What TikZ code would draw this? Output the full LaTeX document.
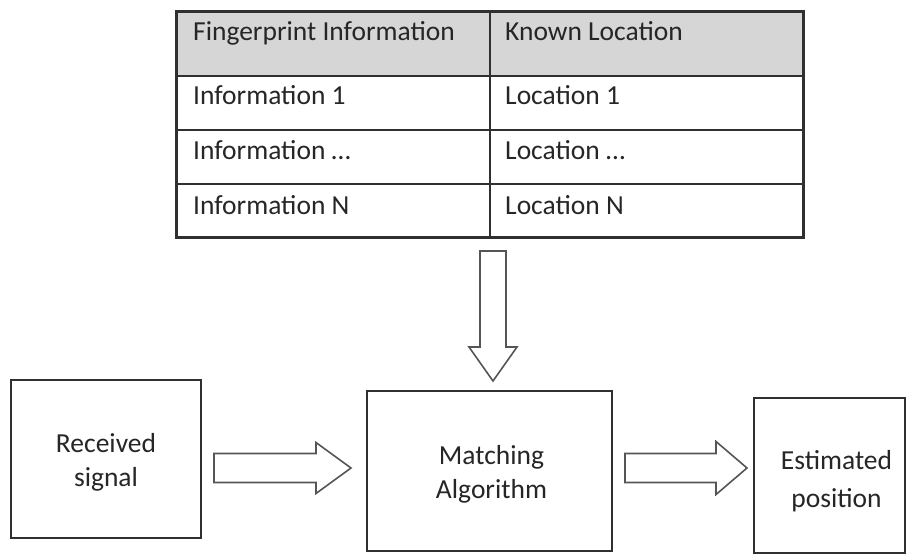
\documentclass[tikz,border=0pt]{standalone}
\usepackage{fontspec}
\setmainfont{Carlito}
\usetikzlibrary{calc}
\definecolor{inkline}{HTML}{303030}
\definecolor{arrowline}{HTML}{555555}
\definecolor{textcol}{HTML}{262626}
\definecolor{headfill}{HTML}{D6D6D6}
\tikzset{
  box/.style={draw=inkline, line width=2pt, fill=white, align=center,
    text=textcol, font=\fontsize{27.5}{34}\selectfont},
  boxtext/.style={align=center, inner sep=0pt, text=textcol,
    font=\fontsize{27.5}{38}\selectfont},
  cell/.style={draw=inkline, line width=2pt, minimum width=313pt, inner sep=0pt},
  celltext/.style={anchor=west, inner sep=0pt, text=textcol,
    font=\fontsize{27.5}{32}\selectfont, text height=19pt, text depth=6pt},
  blockarrow/.style={draw=arrowline, line width=1.6pt, fill=white, line join=miter},
}
\begin{document}
\begin{tikzpicture}[x=1pt,y=-1pt]
\useasboundingbox (0,0) rectangle (906,554);

% fingerprint database table
\node[cell, fill=headfill, minimum height=64pt] (h1) at (333.5,44) {};
\node[cell, fill=headfill, minimum height=64pt] (h2) at (646.5,44) {};
\node[cell, minimum height=54pt] (r1a) at (333.5,103) {};
\node[cell, minimum height=54pt] (r1b) at (646.5,103) {};
\node[cell, minimum height=54pt] (r2a) at (333.5,157) {};
\node[cell, minimum height=54pt] (r2b) at (646.5,157) {};
\node[cell, minimum height=53pt] (r3a) at (333.5,210.5) {};
\node[cell, minimum height=53pt] (r3b) at (646.5,210.5) {};
\draw[inkline, line width=2pt] (h1.north west) rectangle (r3b.south east);

\node[celltext] (t11) at ($(h1.west)+(17,-10)$) {Fingerprint Information};
\node[celltext] (t12) at ($(h2.west)+(16,-10)$) {Known Location};
\node[celltext] (t21) at ($(r1a.west)+(17,-5)$) {Information 1};
\node[celltext] (t22) at ($(r1b.west)+(16,-5)$) {Location 1};
\node[celltext] (t31) at ($(r2a.west)+(17,-4)$) {Information \dots};
\node[celltext] (t32) at ($(r2b.west)+(16,-4)$) {Location \dots};
\node[celltext] (t41) at ($(r3a.west)+(17,-3)$) {Information N};
\node[celltext] (t42) at ($(r3b.west)+(16,-3)$) {Location N};

% processing chain
\node[box, minimum width=190pt, minimum height=158pt] (recv) at (106,459) {};
\node[boxtext, font=\fontsize{27.5}{34}\selectfont] (recvText) at ($(recv.center)+(0,3)$) {Received\\signal};
\node[box, minimum width=245pt, minimum height=160pt] (match) at (489.5,471) {};
\node[boxtext, font=\fontsize{27.5}{34}\selectfont] (matchText) at ($(match.center)+(2,3)$) {Matching\\Algorithm};
\node[box, minimum width=151pt, minimum height=155pt] (est) at (829.5,475.5) {};
\node[boxtext] (estText) at ($(est.center)+(7,6)$) {Estimated\\position};

% arrow ends
\coordinate (dbs) at ($(r3a.south east)+(2,13)$);
\coordinate (dbe) at ($(match.north)+(2.5,-9)$);
\coordinate (a1s) at ($(recv.east)+(12,9)$);
\coordinate (a1e) at ($(match.west)+(-15,-3)$);
\coordinate (a2s) at ($(match.east)+(12,-3)$);
\coordinate (a2e) at ($(est.west)+(-6,-7.5)$);

% hollow block arrows
\draw[blockarrow] let \p1=(dbs), \p2=(dbe) in
  (\x1-13,\y1) -- (\x1+13,\y1) -- (\x1+13,\y2+34) -- (\x1+24,\y2+34) -- (\x1,\y2)
  -- (\x1-24,\y2+34) -- (\x1-13,\y2+34) -- cycle;
\draw[blockarrow] let \p1=(a1s), \p2=(a1e) in
  (\x1,\y1+14.5) -- (\x2-35,\y1+14.5) -- (\x2-35,\y1+25.5) -- (\x2,\y1)
  -- (\x2-35,\y1-25.5) -- (\x2-35,\y1-14.5) -- (\x1,\y1-14.5) -- cycle;
\draw[blockarrow] let \p1=(a2s), \p2=(a2e) in
  (\x1,\y1+14.5) -- (\x2-31,\y1+14.5) -- (\x2-31,\y1+26.5) -- (\x2,\y1)
  -- (\x2-31,\y1-26.5) -- (\x2-31,\y1-14.5) -- (\x1,\y1-14.5) -- cycle;
\end{tikzpicture}
\end{document}
